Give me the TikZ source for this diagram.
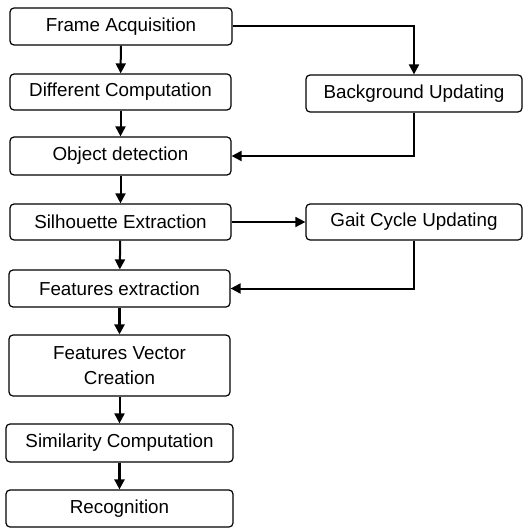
\documentclass[tikz,border=0pt]{standalone}
\usepackage{fontspec}
\setmainfont{Liberation Sans}
\usepackage{tikz}
\usetikzlibrary{arrows.meta, positioning, calc}

\begin{document}
\begin{tikzpicture}[x=0.5pt, y=-0.5pt,
  stage/.style={draw, line width=0.6pt, rounded corners=2pt, align=center, inner sep=2pt, font=\fontsize{9.4}{12.5}\selectfont},
  flow/.style={line width=1pt, -{Triangle[length=5pt, width=5pt]}}]
  \useasboundingbox (0,0) rectangle (527,529);

  % Main chain
  \node[stage, minimum width=111pt, minimum height=18.5pt] (frame) at (121, 26.5) {Frame Acquisition};
  \node[stage, minimum width=110.5pt, minimum height=18pt] (diff) at (120.5, 92) {Different Computation};
  \node[stage, minimum width=110.5pt, minimum height=19pt] (object) at (120.5, 156) {Object detection};
  \node[stage, minimum width=110.5pt, minimum height=18pt] (silh) at (120.5, 222) {Silhouette Extraction};
  \node[stage, minimum width=110.5pt, minimum height=18.5pt] (featx) at (119.5, 288.5) {Features extraction};
  \node[stage, minimum width=110.5pt, minimum height=30.5pt] (featv) at (119.5, 365.5) {Features Vector\\Creation};
  \node[stage, minimum width=113.5pt, minimum height=19pt] (simil) at (119.5, 443) {Similarity Computation};
  \node[stage, minimum width=113.5pt, minimum height=18.5pt] (recog) at (119.5, 508.5) {Recognition};

  % Side branches
  \node[stage, minimum width=108pt, minimum height=18.5pt] (backg) at (414, 93.5) {Background Updating};
  \node[stage, minimum width=108pt, minimum height=18pt] (gait) at (414, 222) {Gait Cycle Updating};

  % Arrows down the chain
  \draw[flow] (frame) -- (diff);
  \draw[flow] (diff) -- (object);
  \draw[flow] (object) -- (silh);
  \draw[flow] (silh) -- (featx);
  \draw[flow, line width=1.5pt] (featx) -- (featv);
  \draw[flow] (featv) -- (simil);
  \draw[flow, line width=1.2pt] (simil) -- (recog);

  % Arrows through the side branches
  \draw[flow] (frame.east) -| (backg.north);
  \draw[flow] (backg.south) |- (object.east);
  \draw[flow, line width=0.8pt] (silh.east) -- (gait.west);
  \draw[flow] (gait.south) |- (featx.east);
\end{tikzpicture}
\end{document}
